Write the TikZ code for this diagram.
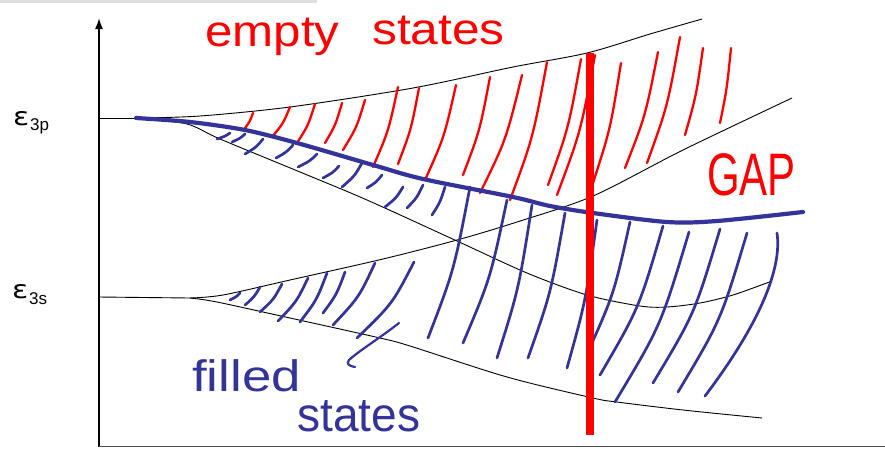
\documentclass[tikz,border=0pt]{standalone}
\usepackage{fontspec}
\setmainfont{Liberation Sans}
\newfontfamily\dvfont{DejaVu Sans}
\usetikzlibrary{arrows.meta}
\definecolor{pen}{RGB}{51,51,153}
\definecolor{ink}{RGB}{255,0,0}
\newcommand\hs[5][]{\draw[#1] (#2,#3) .. controls ({#2+0.38*(#4-(#2))},{#3+0.55*(#5-(#3))}) .. (#4,#5);}
\tikzset{
  band/.style={black, line width=0.9pt},
  redhatch/.style={ink, line width=2.3pt, line cap=round},
  bluehatch/.style={pen, line width=2.7pt, line cap=round},
  hand/.style={inner sep=0pt, anchor=base west},
  lab/.style={inner sep=0pt, anchor=base west, black}
}
\begin{document}
\begin{tikzpicture}[x=1pt,y=-1pt]
\useasboundingbox (0,0) rectangle (885,448);
\fill[gray!25] (0,0) rectangle (317,3);
% axes
\draw[line width=1.6pt, -{Latex[length=11pt,width=8pt]}] (99,447) -- (99,18);
\draw[gray!60!black, line width=1.6pt] (99,446.5) -- (885,446.5);
% level labels
\node[lab, font=\dvfont\fontsize{25}{25}\selectfont] (e3p) at (13,125) {\scalebox{1.2}[1]{ε}};
\node[lab, font=\fontsize{17}{17}\selectfont] (e3pi) at (30,130) {3p};
\node[lab, font=\dvfont\fontsize{25}{25}\selectfont] (e3s) at (12,298) {\scalebox{1.2}[1]{ε}};
\node[lab, font=\fontsize{17}{17}\selectfont] (e3si) at (29,304) {3s};
% band edges
\draw[band] (99,118) -- (140,118);
\draw[band] plot[smooth] coordinates {(140,118) (200,116) (290,107) (413,88) (513,67) (587,53) (650,34) (702,19)};
\draw[band] plot[smooth] coordinates {(140,118) (187,124) (220,139) (300,172) (367,200) (457,241) (527,273) (587,295) (640,306) (667,307) (700,303) (733,295) (772,281)};
\draw[band] (99,297) -- (190,298);
\draw[band] plot[smooth] coordinates {(190,298) (223,295) (290,280) (383,259) (457,240) (517,222) (593,196) (683,150) (792,98)};
\draw[band] plot[smooth] coordinates {(190,298) (217,302) (290,318) (380,338) (410,346) (507,377) (593,398) (617,402) (683,410) (762,418)};
% red hatching (empty states)
\hs[redhatch]{253}{113}{245}{128}
\hs[redhatch]{290}{107}{272}{137}
\hs[redhatch]{315}{104}{297}{143}
\hs[redhatch]{342}{103}{325}{143}
\hs[redhatch]{365}{100}{343}{150}
\hs[redhatch]{398}{87}{373}{167}
\hs[redhatch]{419}{88}{398}{164}
\hs[redhatch]{456}{85}{425}{180}
\hs[redhatch]{490}{77}{463}{175}
\hs[redhatch]{522}{75}{480}{193}
\hs[redhatch]{547}{62}{510}{200}
\hs[redhatch]{581}{59}{548}{185}
\hs[redhatch]{595}{55}{557}{195}
\hs[redhatch]{621}{63}{593}{183}
\hs[redhatch]{658}{52}{625}{168}
\hs[redhatch]{680}{37}{647}{163}
\hs[redhatch]{703}{48}{685}{135}
\hs[redhatch]{731}{48}{720}{123}
% blue hatching (filled states), upper part
\hs[bluehatch]{230}{133}{217}{139}
\hs[bluehatch]{245}{134}{232}{142}
\hs[bluehatch]{263}{139}{245}{154}
\hs[bluehatch]{293}{145}{276}{158}
\hs[bluehatch]{317}{154}{298}{167}
\hs[bluehatch]{339}{166}{323}{178}
\hs[bluehatch]{362}{163}{342}{187}
\hs[bluehatch]{382}{175}{367}{188}
\hs[bluehatch]{403}{187}{385}{207}
\hs[bluehatch]{423}{185}{407}{208}
\hs[bluehatch]{445}{187}{432}{215}
\hs[bluehatch]{470}{187}{428}{338}
\hs[bluehatch]{507}{200}{463}{343}
\hs[bluehatch]{532}{205}{497}{358}
\hs[bluehatch]{565}{213}{528}{358}
\hs[bluehatch]{597}{220}{567}{368}
\hs[bluehatch]{630}{222}{588}{352}
\hs[bluehatch]{663}{226}{600}{375}
\hs[bluehatch]{689}{232}{615}{402}
\hs[bluehatch]{720}{229}{653}{383}
\hs[bluehatch]{747}{233}{678}{392}
\draw[bluehatch] (777,233) .. controls (781,260) and (770,310) .. (705,396);
% 3s part
\hs[bluehatch]{240}{293}{230}{300}
\hs[bluehatch]{260}{287}{245}{305}
\hs[bluehatch]{282}{284}{260}{312}
\hs[bluehatch]{308}{278}{278}{321}
\hs[bluehatch]{327}{273}{300}{322}
\hs[bluehatch]{345}{272}{323}{313}
\hs[bluehatch]{375}{263}{333}{325}
\hs[bluehatch]{414}{262}{357}{338}
% pointer from label
\draw[bluehatch, line width=2.2pt] (399,323) .. controls (380,338) and (360,350) .. (349,360) .. controls (346,364) and (349,366) .. (355,367);
% gap line
\draw[pen, line width=4.2pt, line cap=round] plot[smooth] coordinates {(136,118) (190,122) (245,130) (297,143) (373,165) (423,179) (513,197) (550,206) (593,213) (667,222) (717,221) (803,212)};
% red cut
\draw[ink, line width=8pt] (590,53) -- (590,435);
% handwritten labels
\node[hand, ink, font=\fontsize{44}{44}\selectfont] (empty) at (205,46) {\scalebox{1.12}[1]{empty}};
\node[hand, ink, font=\fontsize{44}{44}\selectfont] (estates) at (372,44) {\scalebox{1.13}[1]{states}};
\node[hand, ink, font=\fontsize{60}{60}\selectfont] (gap) at (707,195) {\scalebox{0.7}[1]{GAP}};
\node[hand, pen, font=\fontsize{44}{44}\selectfont] (filled) at (192,391) {\scalebox{1.2}[1]{filled}};
\node[hand, pen, font=\fontsize{48}{48}\selectfont] (fstates) at (297,431) {\scalebox{0.96}[1]{states}};
\end{tikzpicture}
\end{document}
